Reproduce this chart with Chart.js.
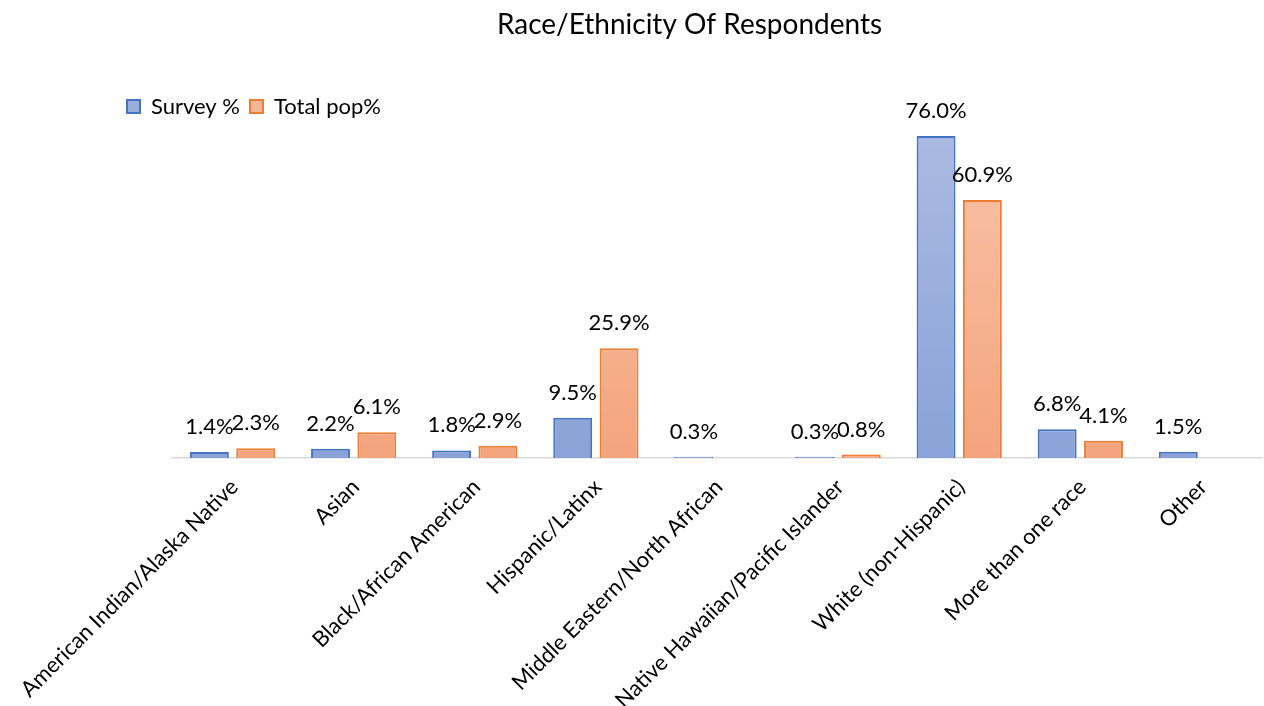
<!DOCTYPE html>
<html>
<head>
<meta charset="utf-8">
<script src="https://cdn.jsdelivr.net/npm/chart.js@4"></script>
<style>
  html, body { margin: 0; padding: 0; background: #fff; }
  #wrap { width: 1264px; height: 706px; }
</style>
</head>
<body>
<div id="wrap"><canvas id="RaceChart"></canvas></div>
<script>
// Data
const categories = [
    'American Indian/Alaska Native',
    'Asian',
    'Black/African American',
    'Hispanic/Latinx',
    'Middle Eastern/North African',
    'Native Hawaiian/Pacific Islander',
    'White (non-Hispanic)',
    'More than one race',
    'Other'
];
const surveyPct = [1.4, 2.2, 1.8, 9.5, 0.3, 0.3, 76.0, 6.8, 1.5];
const totalPopPct = [2.3, 6.1, 2.9, 25.9, null, 0.8, 60.9, 4.1, null];

const FONT = 'Lato';

function fillGradient(ctx, top, bottom) {
    const chart = ctx.chart;
    const area = chart.chartArea;
    if (!area) return bottom;
    const g = chart.ctx.createLinearGradient(0, area.top, 0, area.bottom);
    g.addColorStop(0, top);
    g.addColorStop(1, bottom);
    return g;
}

// value labels above bars
const barLabels = {
    id: 'barLabels',
    afterDatasetsDraw(chart) {
        const c = chart.ctx;
        c.save();
        c.font = '22px ' + FONT;
        c.fillStyle = '#000';
        c.textAlign = 'center';
        c.textBaseline = 'middle';
        chart.data.datasets.forEach((ds, i) => {
            chart.getDatasetMeta(i).data.forEach((bar, j) => {
                const v = ds.data[j];
                if (v == null) return;
                c.fillText(v.toFixed(1) + '%', bar.x, bar.y - 25);
            });
        });
        c.restore();
    }
};

new Chart(document.getElementById('RaceChart').getContext('2d'), {
    type: 'bar',
    data: {
        labels: categories,
        datasets: [
            {
                label: 'Survey %',
                data: surveyPct,
                backgroundColor: ctx => fillGradient(ctx, '#abbae1', '#8aa2d7'),
                borderColor: '#4472c4',
                borderWidth: 2,
                borderSkipped: 'bottom'
            },
            {
                label: 'Total pop%',
                data: totalPopPct,
                backgroundColor: ctx => fillGradient(ctx, '#f8c3aa', '#f4a47d'),
                borderColor: '#ed7d31',
                borderWidth: 2,
                borderSkipped: 'bottom'
            }
        ]
    },
    options: {
        responsive: true,
        maintainAspectRatio: false,
        animation: false,
        categoryPercentage: 0.765,
        barPercentage: 0.84,
        layout: {
            padding: { left: 117, right: 2, top: 0, bottom: 0 }
        },
        plugins: {
            title: {
                display: true,
                text: 'Race/Ethnicity Of Respondents',
                color: '#000',
                font: { family: FONT, size: 28, weight: 'normal' },
                padding: { top: 8, bottom: 44 }
            },
            legend: {
                position: 'top',
                align: 'start',
                labels: {
                    color: '#000',
                    font: { family: FONT, size: 22 },
                    boxWidth: 13,
                    boxHeight: 13,
                    padding: 10,
                    generateLabels(chart) {
                        return chart.data.datasets.map((ds, i) => ({
                            text: ds.label,
                            fillStyle: i === 0 ? '#9aaedc' : '#f6b596',
                            strokeStyle: ds.borderColor,
                            lineWidth: 2,
                            datasetIndex: i
                        }));
                    }
                }
            },
            tooltip: { enabled: false }
        },
        scales: {
            x: {
                grid: { display: false },
                border: { color: '#d9d9d9', width: 1.5 },
                ticks: {
                    color: '#000',
                    font: { family: FONT, size: 22 },
                    minRotation: 45,
                    maxRotation: 45,
                    autoSkip: false,
                    labelOffset: 2,
                    padding: 8
                },
                afterFit(scale) { scale.height = 248; }
            },
            y: {
                min: 0,
                max: 78,
                display: true,
                grid: { display: false },
                border: { display: false },
                ticks: { display: false },
                afterFit(scale) { scale.width = 55; }
            }
        }
    },
    plugins: [barLabels]
});
</script>
</body>
</html>
